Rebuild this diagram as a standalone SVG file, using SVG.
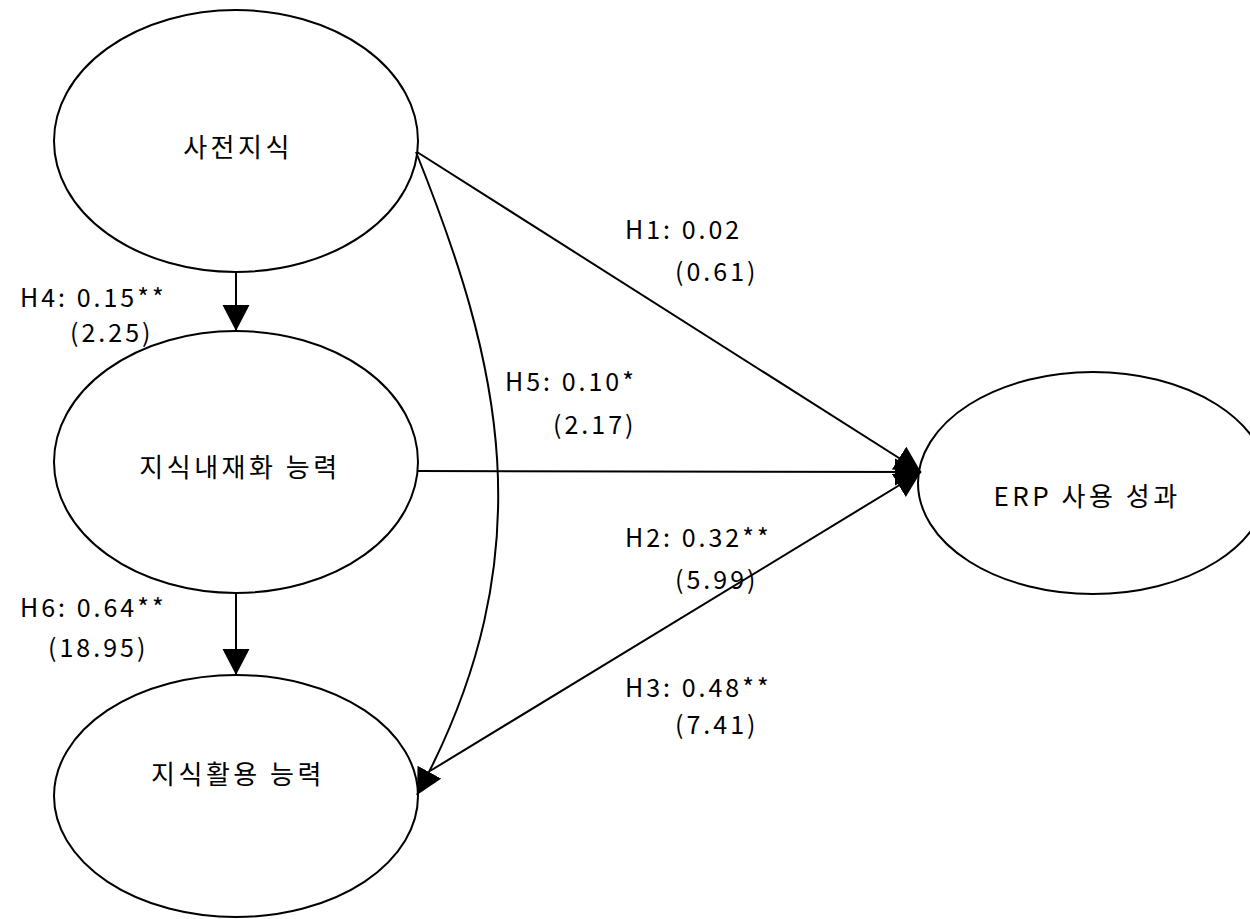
<svg xmlns="http://www.w3.org/2000/svg" width="1250" height="919" viewBox="0 0 1250 919">
<style>
.node ellipse{fill:none;stroke:#000;stroke-width:2}
text{font-family:"Noto Sans CJK KR","Noto Sans",sans-serif;font-size:25px;fill:#000;letter-spacing:3px}
.node text{font-size:26px;letter-spacing:3.5px;text-anchor:middle}
.edge{fill:none;stroke:#000;stroke-width:2}
</style>
<defs>
<marker id="ah" markerUnits="userSpaceOnUse" markerWidth="28" markerHeight="28" refX="26" refY="13.5" orient="auto" viewBox="0 0 28 28">
<path d="M0,0 L26,13.5 L0,27 Z" fill="#000"/>
</marker>
</defs>
<rect width="1250" height="919" fill="#fff"/>
<g id="connectors">
<line class="edge" x1="417" y1="152" x2="921" y2="472" marker-end="url(#ah)"/>
<line class="edge" x1="417" y1="471" x2="921" y2="472" marker-end="url(#ah)"/>
<line class="edge" x1="430" y1="771" x2="921" y2="472" marker-end="url(#ah)"/>
<line class="edge" x1="236" y1="273" x2="236" y2="331" marker-end="url(#ah)"/>
<line class="edge" x1="236" y1="593" x2="236" y2="675" marker-end="url(#ah)"/>
<path class="edge" d="M416,152 C499,359 549,552 417,795" marker-end="url(#ah)"/>
</g>
<g id="n1" class="node"><ellipse cx="236" cy="141" rx="182" ry="131"/><text x="238" y="157">사전지식</text></g>
<g id="n2" class="node"><ellipse cx="236" cy="462" rx="182" ry="131"/><text x="240" y="477">지식내재화 능력</text></g>
<g id="n3" class="node"><ellipse cx="236" cy="796" rx="182" ry="121"/><text x="238" y="784">지식활용 능력</text></g>
<g id="n4" class="node"><ellipse cx="1093" cy="483" rx="175" ry="111"/><text x="1087" y="506">ERP 사용 성과</text></g>
<g id="labels">
<text x="625" y="239">H1: 0.02</text>
<text x="675" y="281">(0.61)</text>
<text x="20" y="307">H4: 0.15**</text>
<text x="70" y="342">(2.25)</text>
<text x="505" y="391">H5: 0.10*</text>
<text x="553" y="434">(2.17)</text>
<text x="625" y="547">H2: 0.32**</text>
<text x="675" y="589">(5.99)</text>
<text x="20" y="617">H6: 0.64**</text>
<text x="48" y="657">(18.95)</text>
<text x="625" y="697">H3: 0.48**</text>
<text x="675" y="734">(7.41)</text>
</g>
</svg>
